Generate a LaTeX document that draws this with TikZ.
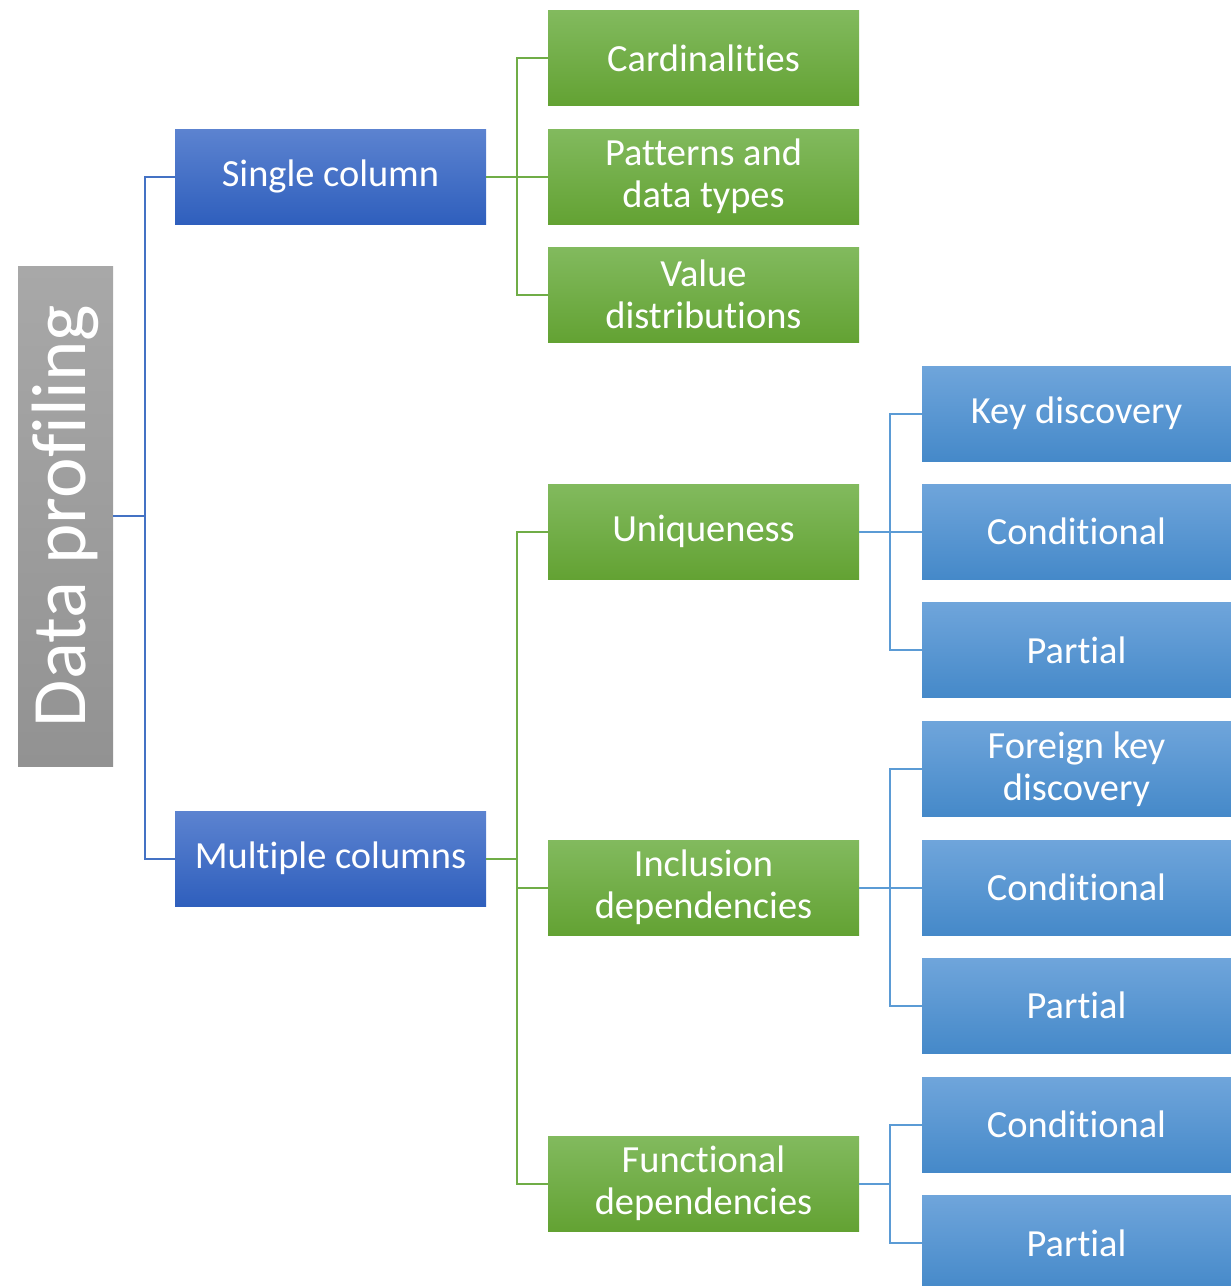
\documentclass[tikz,border=0pt]{standalone}
\usepackage{graphicx}
\usepackage{fontspec}
\setmainfont{Carlito}[Ligatures=NoCommon]
\definecolor{lineblue}{HTML}{4472C4}
\definecolor{linegreen}{HTML}{70AD47}
\definecolor{linesky}{HTML}{5B9BD5}
\definecolor{bluetop}{RGB}{92,131,208}
\definecolor{bluebot}{RGB}{47,95,189}
\definecolor{greentop}{RGB}{130,186,94}
\definecolor{greenbot}{RGB}{99,162,51}
\definecolor{skytop}{RGB}{111,165,219}
\definecolor{skybot}{RGB}{69,137,201}
\definecolor{graytop}{RGB}{168,168,168}
\definecolor{graybot}{RGB}{146,146,146}
\begin{document}
\begin{tikzpicture}[x=0.5pt,y=-0.5pt,
	box/.style={rectangle,inner sep=0pt,minimum width=155.5pt,minimum height=47.5pt,align=center,text=white,font=\fontsize{19.2}{21}\selectfont},
	bluebox/.style={box,top color=bluetop,bottom color=bluebot},
	greenbox/.style={box,top color=greentop,bottom color=greenbot},
	skybox/.style={box,minimum width=154.5pt,top color=skytop,bottom color=skybot},
	link/.style={line width=1pt}]
			\useasboundingbox (0,0) rectangle (1231,1286);
			% root
			\node[rectangle,inner sep=0pt,minimum width=47.5pt,minimum height=250pt,top color=graytop,bottom color=graybot,text=white,font=\fontsize{38.5}{40}\selectfont] (root) at (65.5,516) {\rotatebox{90}{Data profiling}};
			% first level
			\node[bluebox] (single) at (330.5,176.5) {Single column};
			\node[bluebox] (multi) at (330.5,858.5) {Multiple columns};
			% second level
			\node[greenbox] (card) at (703.5,58) {Cardinalities};
			\node[greenbox] (patt) at (703.5,176.5) {Patterns and\\data types};
			\node[greenbox] (valdist) at (703.5,294.5) {Value\\distributions};
			\node[greenbox] (uniq) at (703.5,531.5) {Uniqueness};
			\node[greenbox] (incl) at (703.5,887.5) {Inclusion\\dependencies};
			\node[greenbox] (func) at (703.5,1183.5) {Functional\\dependencies};
			% third level
			\node[skybox] (ukey) at (1076.5,413.5) {Key discovery};
			\node[skybox] (ucond) at (1076.5,531.5) {Conditional};
			\node[skybox] (upart) at (1076.5,650) {Partial};
			\node[skybox] (ikey) at (1076.5,769) {Foreign key\\discovery};
			\node[skybox] (icond) at (1076.5,887.5) {Conditional};
			\node[skybox] (ipart) at (1076.5,1005.5) {Partial};
			\node[skybox] (fcond) at (1076.5,1124.5) {Conditional};
			\node[skybox] (fpart) at (1076.5,1243) {Partial};
			% connectors
			\foreach \to in {single,multi}
				\draw[link,lineblue] (root.east) -- ++(32,0) |- (\to.west);
			\foreach \to in {card,patt,valdist}
				\draw[link,linegreen] (single.east) -- ++(31,0) |- (\to.west);
			\foreach \to in {uniq,incl,func}
				\draw[link,linegreen] (multi.east) -- ++(31,0) |- (\to.west);
			\foreach \to in {ukey,ucond,upart}
				\draw[link,linesky] (uniq.east) -- ++(31,0) |- (\to.west);
			\foreach \to in {ikey,icond,ipart}
				\draw[link,linesky] (incl.east) -- ++(31,0) |- (\to.west);
			\foreach \to in {fcond,fpart}
				\draw[link,linesky] (func.east) -- ++(31,0) |- (\to.west);
		\end{tikzpicture}
\end{document}
